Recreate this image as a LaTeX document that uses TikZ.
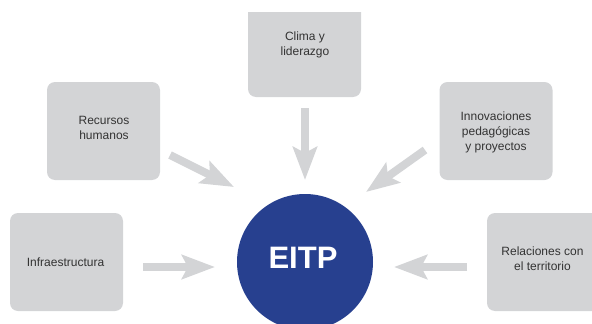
\documentclass[tikz,border=0pt]{standalone}
\usepackage{fontspec}
\setmainfont{Liberation Sans}
\usetikzlibrary{arrows.meta}
\definecolor{boxgray}{HTML}{D3D4D6}
\definecolor{arrgray}{HTML}{D3D4D6}
\definecolor{eitpblue}{HTML}{27408F}
\definecolor{txtgray}{HTML}{333333}
\tikzset{
  factor/.style={fill=boxgray, rounded corners=8pt, minimum width=113pt, minimum height=98pt, inner sep=0pt},
  factortext/.style={text=txtgray, font=\fontsize{12}{15}\selectfont, align=center, inner sep=0pt},
  bigarrow/.style={draw=arrgray, line width=8pt, -{Stealth[length=33pt, width=24pt, inset=6pt]}},
}
\begin{document}
\begin{tikzpicture}[x=1pt, y=-1pt]
\useasboundingbox (0,0) rectangle (592,324);
\begin{scope}
\clip (0,12) rectangle (592,324);
% boxes
\node[factor, minimum height=105pt] (clima) at (304.5,44.5) {};
\node[factor] (recursos) at (103.5,131) {};
\node[factor] (innov) at (496,131) {};
\node[factor] (infra) at (66.5,262) {};
\node[factor] (relac) at (543.5,262) {};
% texts
\node[factortext] (tclima) at (305,44.5) {Clima y\\liderazgo};
\node[factortext] (trecursos) at (104,127.5) {Recursos\\humanos};
\node[factortext] (tinnov) at (496,132) {Innovaciones\\pedagógicas\\y proyectos};
\node[factortext] (tinfra) at (65.5,262) {Infraestructura};
\node[factortext] (trelac) at (542.5,258.5) {Relaciones con\\el territorio};
% center circle
\node[circle, fill=eitpblue, minimum size=136pt, inner sep=0pt] (eitp) at (305,262) {};
\node[text=white, font=\fontsize{31}{31}\selectfont\bfseries, inner sep=0pt] (teitp) at (303,258) {EITP};
% arrow coordinates
\coordinate (a1s) at (305,108);
\coordinate (a1e) at (305,180);
\coordinate (a2s) at (170,155);
\coordinate (a2e) at (234,187);
\coordinate (a3s) at (425,150);
\coordinate (a3e) at (366,192);
\coordinate (a4s) at (143,267);
\coordinate (a4e) at (215,267);
\coordinate (a5s) at (467,267);
\coordinate (a5e) at (394,267);
\draw[bigarrow] (a1s) -- (a1e);
\draw[bigarrow] (a2s) -- (a2e);
\draw[bigarrow] (a3s) -- (a3e);
\draw[bigarrow] (a4s) -- (a4e);
\draw[bigarrow] (a5s) -- (a5e);
\end{scope}
\end{tikzpicture}
\end{document}
